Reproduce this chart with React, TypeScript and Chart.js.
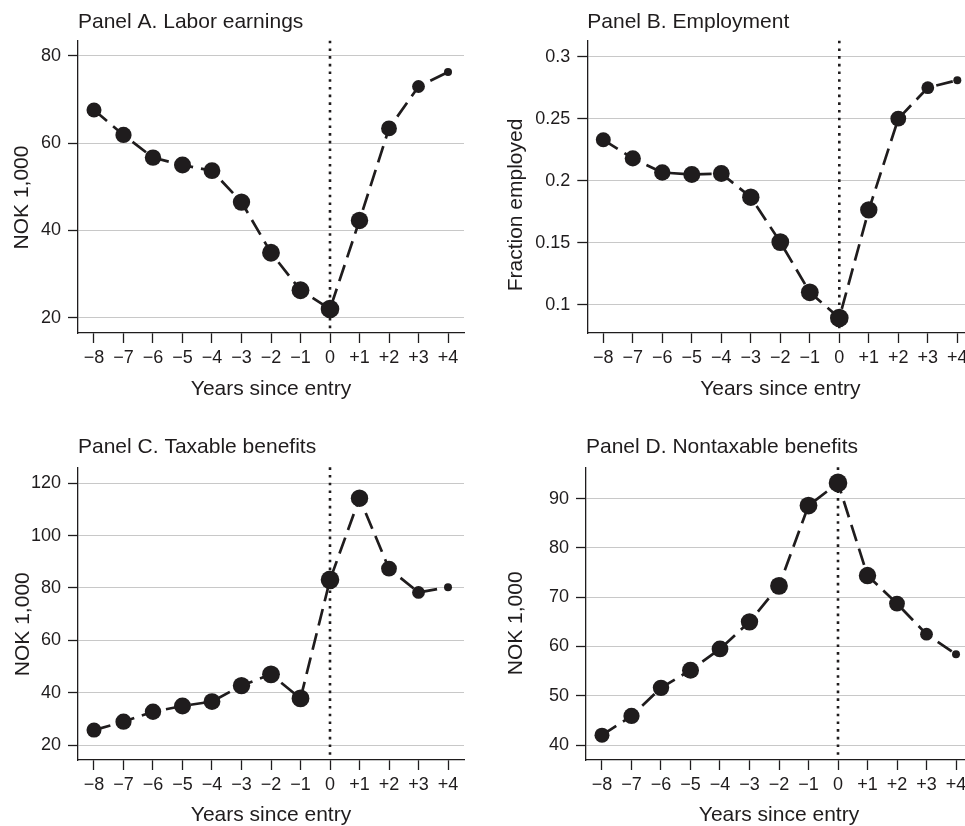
import React, { useEffect, useRef } from "react";
import { Chart, registerables } from "chart.js";

Chart.register(...registerables);

// ---- data -------------------------------------------------------------
const years = [-8, -7, -6, -5, -4, -3, -2, -1, 0, 1, 2, 3, 4];
const yearLabels = ["−8", "−7", "−6", "−5", "−4", "−3", "−2", "−1", "0", "+1", "+2", "+3", "+4"];

const laborEarnings = [67.6, 61.9, 56.7, 55.0, 53.7, 46.5, 34.9, 26.3, 22.0, 42.3, 63.4, 73.0, 76.3];
const employment = [0.233, 0.218, 0.2066, 0.205, 0.2058, 0.1867, 0.1505, 0.11, 0.0893, 0.1765, 0.25, 0.275, 0.281];
const taxableBenefits = [25.7, 28.9, 32.7, 34.9, 36.6, 42.7, 47.0, 37.8, 83.1, 114.3, 87.4, 78.3, 80.3];
const nontaxableBenefits = [42.0, 45.9, 51.6, 55.2, 59.5, 65.0, 72.3, 88.6, 93.2, 74.4, 68.7, 62.5, 58.4];

const earningsTicks = [20, 40, 60, 80];
const earningsTickLabels = ["20", "40", "60", "80"];
const employmentTicks = [0.1, 0.15, 0.2, 0.25, 0.3];
const employmentTickLabels = ["0.1", "0.15", "0.2", "0.25", "0.3"];
const taxableTicks = [20, 40, 60, 80, 100, 120];
const taxableTickLabels = ["20", "40", "60", "80", "100", "120"];
const nontaxableTicks = [40, 50, 60, 70, 80, 90];
const nontaxableTickLabels = ["40", "50", "60", "70", "80", "90"];

// ---- styling ----------------------------------------------------------
const FONT = "'Liberation Sans', Arial, Helvetica, sans-serif";
const INK = "#1f1c1d";
const GRID = "#c8c8c8";
// marker size per year (cell size weighting)
const markerRadius = [7.5, 8.1, 8.2, 8.5, 8.4, 8.7, 8.9, 8.9, 9.3, 8.7, 7.9, 6.4, 4];

type PanelSpec = {
  title: string;
  yTitle: string;
  values: number[];
  ticks: number[];
  tickLabels: string[];
  yMin: number;
  yMax: number;
  box: { left: number; top: number; width: number; height: number };
  area: { left: number; top: number; right: number; bottom: number };
  titlePadTop: number;
  yTitlePos: { x: number; y: number };
  xTitleOffset: number;
};

const panels: PanelSpec[] = [
  {
    title: "Panel A. Labor earnings",
    yTitle: "NOK 1,000",
    values: laborEarnings,
    ticks: earningsTicks,
    tickLabels: earningsTickLabels,
    yMin: 16.5,
    yMax: 83.5,
    box: { left: 0, top: 0, width: 482, height: 413 },
    area: { left: 78, top: 40.7, right: 464, bottom: 333 },
    titlePadTop: 10,
    yTitlePos: { x: 22.5, y: 197.5 },
    xTitleOffset: 56,
  },
  {
    title: "Panel B. Employment",
    yTitle: "Fraction employed",
    values: employment,
    ticks: employmentTicks,
    tickLabels: employmentTickLabels,
    yMin: 0.0772,
    yMax: 0.3129,
    box: { left: 482, top: 0, width: 500, height: 413 },
    area: { left: 105.3, top: 40.7, right: 491.3, bottom: 333 },
    titlePadTop: 10,
    yTitlePos: { x: 33.8, y: 205 },
    xTitleOffset: 56,
  },
  {
    title: "Panel C. Taxable benefits",
    yTitle: "NOK 1,000",
    values: taxableBenefits,
    ticks: taxableTicks,
    tickLabels: taxableTickLabels,
    yMin: 14.27,
    yMax: 126.1,
    box: { left: 0, top: 413, width: 482, height: 440 },
    area: { left: 78, top: 54.3, right: 464, bottom: 347 },
    titlePadTop: 21.4,
    yTitlePos: { x: 23.5, y: 211.2 },
    xTitleOffset: 55.6,
  },
  {
    title: "Panel D. Nontaxable benefits",
    yTitle: "NOK 1,000",
    values: nontaxableBenefits,
    ticks: nontaxableTicks,
    tickLabels: nontaxableTickLabels,
    yMin: 36.96,
    yMax: 96.37,
    box: { left: 482, top: 413, width: 500, height: 440 },
    area: { left: 104, top: 54.3, right: 490, bottom: 347 },
    titlePadTop: 21.4,
    yTitlePos: { x: 33.8, y: 210.3 },
    xTitleOffset: 55.6,
  },
];

// Rotated y-axis caption, placed at an explicit spot beside the axis
const sideTitlePlugin = {
  id: "sideTitle",
  afterDraw(chart: any, _args: any, opts: any) {
    if (!opts || !opts.text) return;
    const { ctx } = chart;
    ctx.save();
    ctx.translate(opts.x, opts.y);
    ctx.rotate(-Math.PI / 2);
    ctx.font = `21px ${FONT}`;
    ctx.fillStyle = INK;
    ctx.textAlign = "center";
    ctx.textBaseline = "middle";
    ctx.fillText(opts.text, 0, 0);
    ctx.restore();
  },
};

function Panel({ spec }: { spec: PanelSpec }) {
  const ref = useRef<HTMLCanvasElement | null>(null);

  useEffect(() => {
    if (!ref.current) return;
    const { box, area } = spec;
    const TITLE_LINE = 21 * 1.2;
    const xAxisHeight = box.height - area.bottom;
    const xTitleBottomPad = xAxisHeight - spec.xTitleOffset - 12.6;
    const pxPerYear = (area.right - area.left) / 13.084;
    const xMin = -8 - 16 / pxPerYear;
    const xMax = 4 + 16 / pxPerYear;

    const chart = new Chart(ref.current, {
      type: "line",
      data: {
        datasets: [
          {
            data: years.map((x, i) => ({ x, y: spec.values[i] })),
            borderColor: INK,
            borderWidth: 2.7,
            borderDash: [17, 8],
            pointRadius: markerRadius,
            pointHoverRadius: markerRadius,
            pointBackgroundColor: INK,
            pointBorderColor: INK,
            pointBorderWidth: 0,
            tension: 0,
            order: 0,
            clip: false as any,
          },
          {
            // program entry marker at year 0
            data: [
              { x: 0, y: spec.yMax },
              { x: 0, y: spec.yMin },
            ],
            borderColor: INK,
            borderWidth: 2.6,
            borderDash: [2.6, 5.1],
            pointRadius: 0,
            order: 1,
            clip: false as any,
          },
        ],
      },
      options: {
        animation: false,
        responsive: false,
        events: [],
        layout: {
          padding: { left: 0, top: 0, right: box.width - area.right, bottom: 0 },
        },
        plugins: {
          legend: { display: false },
          tooltip: { enabled: false },
          title: {
            display: true,
            text: spec.title,
            align: "start",
            fullSize: false,
            color: INK,
            font: { family: FONT, size: 21, weight: "normal" as any, lineHeight: 1.2 },
            padding: { top: spec.titlePadTop, bottom: area.top - spec.titlePadTop - TITLE_LINE },
          },
          sideTitle: { text: spec.yTitle, x: spec.yTitlePos.x, y: spec.yTitlePos.y },
        } as any,
        scales: {
          x: {
            type: "linear",
            min: xMin,
            max: xMax,
            afterBuildTicks: (s: any) => {
              s.ticks = years.map((v) => ({ value: v }));
            },
            afterFit: (s: any) => {
              s.height = xAxisHeight;
            },
            ticks: {
              callback: (_v: any, i: number) => yearLabels[i],
              color: INK,
              font: { family: FONT, size: 18 },
              padding: 4,
              maxRotation: 0,
              autoSkip: false,
            },
            grid: {
              drawOnChartArea: false,
              tickLength: 10,
              tickColor: INK,
              tickWidth: 1.3,
            },
            border: { color: INK, width: 1.3 },
            title: {
              display: true,
              text: "Years since entry",
              color: INK,
              font: { family: FONT, size: 21 },
              padding: { top: 0, bottom: xTitleBottomPad },
            },
          },
          y: {
            type: "linear",
            min: spec.yMin,
            max: spec.yMax,
            afterBuildTicks: (s: any) => {
              s.ticks = spec.ticks.map((v) => ({ value: v }));
            },
            afterFit: (s: any) => {
              s.width = area.left;
            },
            ticks: {
              callback: (_v: any, i: number) => spec.tickLabels[i],
              color: INK,
              font: { family: FONT, size: 18 },
              padding: 7,
            },
            grid: {
              color: GRID,
              lineWidth: 1,
              tickLength: 10,
              tickColor: INK,
              tickWidth: 1.3,
            },
            border: { color: INK, width: 1.3 },
          },
        },
      } as any,
      plugins: [sideTitlePlugin as any],
    });

    return () => chart.destroy();
  }, [spec]);

  return (
    <canvas
      ref={ref}
      width={spec.box.width}
      height={spec.box.height}
      style={{
        position: "absolute",
        left: spec.box.left,
        top: spec.box.top,
        width: spec.box.width,
        height: spec.box.height,
      }}
    />
  );
}

export default function App() {
  return (
    <div
      style={{
        position: "absolute",
        left: 0,
        top: 0,
        width: 965,
        height: 826,
        overflow: "hidden",
        background: "#ffffff",
      }}
    >
      {panels.map((p) => (
        <Panel key={p.title} spec={p} />
      ))}
    </div>
  );
}
